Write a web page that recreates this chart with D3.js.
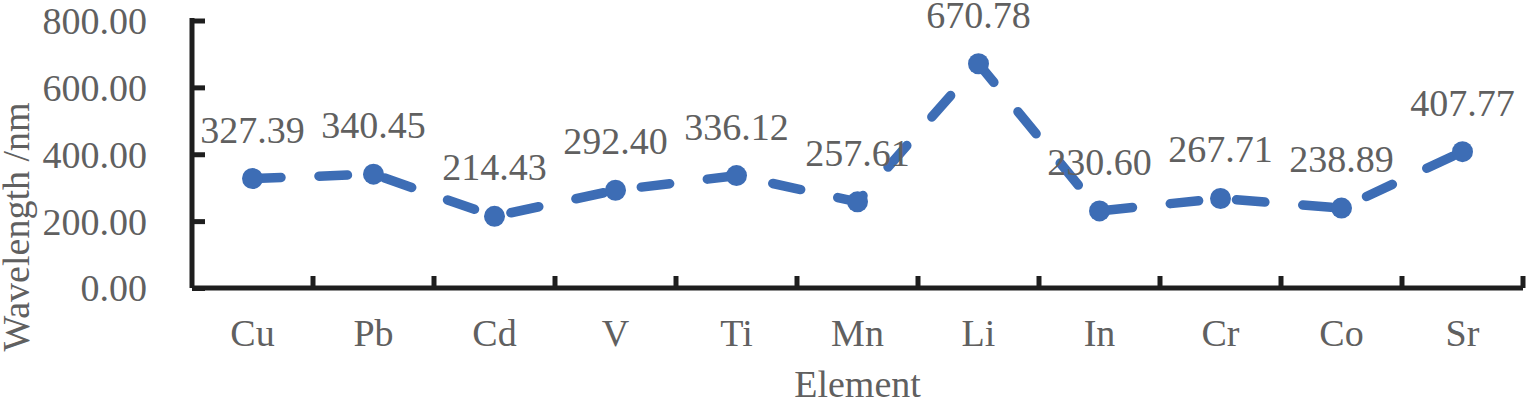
<!DOCTYPE html>
<html>
<head>
<meta charset="utf-8">
<script src="https://cdn.jsdelivr.net/npm/d3@7"></script>
<style>
  body { margin: 0; background: #fff; }
  text { font-family: "Liberation Serif", "Times New Roman", serif; }
</style>
</head>
<body>
<div id="chart-area"></div>
<script>
// data
const elements = ["Cu", "Pb", "Cd", "V", "Ti", "Mn", "Li", "In", "Cr", "Co", "Sr"]
const wavelengths = [327.39, 340.45, 214.43, 292.40, 336.12, 257.61, 670.78, 230.60, 267.71, 238.89, 407.77]
const yTicks = [0, 200, 400, 600, 800]

const W = 1529, H = 404
const MARGIN = { LEFT: 192, RIGHT: 6, TOP: 20.5, BOTTOM: 116 }
const WIDTH = W - MARGIN.LEFT - MARGIN.RIGHT
const HEIGHT = H - MARGIN.TOP - MARGIN.BOTTOM

const TEXT = "#606060"
const AXIS = "#1e1e1e"
const BLUE = "#3d6db5"
const LW = 9.5

const svg = d3.select("#chart-area").append("svg")
  .attr("width", W)
  .attr("height", H)

const g = svg.append("g")
  .attr("transform", `translate(${MARGIN.LEFT}, ${MARGIN.TOP})`)

// scales
const x = d3.scaleBand().domain(elements).range([0, WIDTH])
const y = d3.scaleLinear().domain([0, 800]).range([HEIGHT, 0])

// x axis: ticks sit between categories and point up
const xAxis = g.append("g")
  .attr("transform", `translate(0, ${HEIGHT})`)
xAxis.append("line")
  .attr("x1", 0).attr("x2", WIDTH)
  .attr("stroke", AXIS).attr("stroke-width", 5)
xAxis.selectAll(".xtick")
  .data(elements)
  .enter().append("line")
  .attr("class", "xtick")
  .attr("x1", d => x(d) + x.bandwidth())
  .attr("x2", d => x(d) + x.bandwidth())
  .attr("y1", 0).attr("y2", -12)
  .attr("stroke", AXIS).attr("stroke-width", 5)
xAxis.selectAll(".xlabel")
  .data(elements)
  .enter().append("text")
  .attr("class", "xlabel")
  .attr("x", d => x(d) + x.bandwidth() / 2)
  .attr("y", 58)
  .attr("text-anchor", "middle")
  .attr("font-size", "38px")
  .attr("fill", TEXT)
  .text(d => d)

// y axis
const yAxisCall = d3.axisLeft(y)
  .tickValues(yTicks)
  .tickSize(-13)
  .tickPadding(0)
  .tickFormat(d3.format(".2f"))
const yAxis = g.append("g").call(yAxisCall)
yAxis.select(".domain").remove()
yAxis.append("line")
  .attr("y1", HEIGHT).attr("y2", -2.5)
  .attr("stroke", AXIS).attr("stroke-width", 5)
yAxis.selectAll(".tick line")
  .attr("stroke", AXIS).attr("stroke-width", 5)
yAxis.selectAll(".tick text")
  .attr("x", -45)
  .attr("dy", "0.34em")
  .attr("font-size", "38px")
  .attr("font-family", "Liberation Serif, serif")
  .attr("fill", TEXT)

// axis titles
g.append("text")
  .attr("x", WIDTH / 2)
  .attr("y", HEIGHT + 109)
  .attr("text-anchor", "middle")
  .attr("font-size", "38px")
  .attr("fill", TEXT)
  .text("Element")
svg.append("text")
  .attr("transform", "translate(29, 227) rotate(-90)")
  .attr("text-anchor", "middle")
  .attr("font-size", "38px")
  .attr("fill", TEXT)
  .text("Wavelength /nm")

// dashed line
const line = d3.line()
  .x((d, i) => x(elements[i]) + x.bandwidth() / 2)
  .y(d => y(d))
g.append("path")
  .attr("d", line(wavelengths))
  .attr("fill", "none")
  .attr("stroke", BLUE)
  .attr("stroke-width", LW)
  .attr("stroke-linecap", "round")
  .attr("stroke-linejoin", "round")
  .attr("stroke-dasharray", `${3 * LW},${4 * LW}`)

// markers
g.selectAll(".dot")
  .data(wavelengths)
  .enter().append("circle")
  .attr("class", "dot")
  .attr("cx", (d, i) => x(elements[i]) + x.bandwidth() / 2)
  .attr("cy", d => y(d))
  .attr("r", 10.5)
  .attr("fill", BLUE)

// value labels
g.selectAll(".val")
  .data(wavelengths)
  .enter().append("text")
  .attr("class", "val")
  .attr("x", (d, i) => x(elements[i]) + x.bandwidth() / 2)
  .attr("y", d => y(d) - 36)
  .attr("text-anchor", "middle")
  .attr("font-size", "38px")
  .attr("fill", TEXT)
  .text(d => d3.format(".2f")(d))
</script>
</body>
</html>
